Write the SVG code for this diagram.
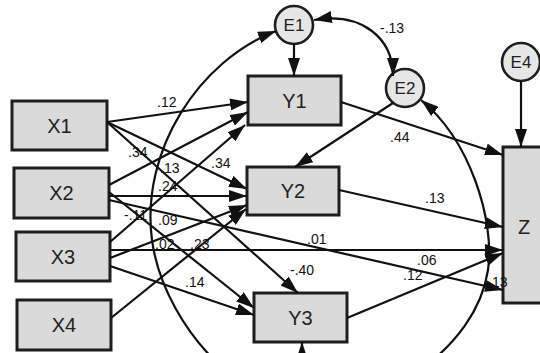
<svg xmlns="http://www.w3.org/2000/svg" width="540" height="353" viewBox="0 0 540 353">
<style>
.box{fill:#dadada;stroke:#1e1e1e;stroke-width:3}
.circ{fill:#e6e6e6;stroke:#1e1e1e;stroke-width:2.6}
.nt{font-family:"Liberation Sans",Arial,sans-serif;font-size:20px;fill:#222;text-anchor:middle}
.ct{font-family:"Liberation Sans",Arial,sans-serif;font-size:17px;fill:#222;text-anchor:middle}
.lb{font-family:"Liberation Sans",Arial,sans-serif;font-size:14px;fill:#111}
.e{fill:none;stroke:#111;stroke-width:2.2;marker-end:url(#ah)}
.b{fill:none;stroke:#111;stroke-width:2.2;marker-end:url(#ah);marker-start:url(#ahs)}
</style>
<defs>
<marker id="ah" markerUnits="userSpaceOnUse" markerWidth="18" markerHeight="12" refX="18" refY="6" orient="auto"><path d="M0,0 L18,6 L0,12 z" fill="#111"/></marker>
<marker id="ahs" markerUnits="userSpaceOnUse" markerWidth="18" markerHeight="12" refX="0" refY="6" orient="auto"><path d="M18,0 L0,6 L18,12 z" fill="#111"/></marker>
</defs>
<rect width="540" height="353" fill="#ffffff"/>
<g id="node-X1"><rect class="box" x="12" y="101" width="95" height="49"/><text class="nt" x="59.5" y="133">X1</text></g>
<g id="node-X2"><rect class="box" x="14" y="168" width="95" height="50"/><text class="nt" x="61.5" y="200">X2</text></g>
<g id="node-X3"><rect class="box" x="16" y="232" width="94" height="49"/><text class="nt" x="63" y="264">X3</text></g>
<g id="node-X4"><rect class="box" x="17" y="300" width="94" height="50"/><text class="nt" x="64" y="332">X4</text></g>
<g id="node-Y1"><rect class="box" x="248" y="76" width="93" height="49"/><text class="nt" x="294.5" y="108">Y1</text></g>
<g id="node-Y2"><rect class="box" x="247" y="167" width="92" height="48"/><text class="nt" x="293" y="198">Y2</text></g>
<g id="node-Y3"><rect class="box" x="254" y="293" width="93" height="49"/><text class="nt" x="300.5" y="325">Y3</text></g>
<g id="node-Z"><rect class="box" x="503" y="147" width="47" height="156"/><text class="nt" x="524" y="234">Z</text></g>
<g id="node-E1"><circle class="circ" cx="294" cy="25" r="19"/><text class="ct" x="294" y="31">E1</text></g>
<g id="node-E2"><circle class="circ" cx="405" cy="88" r="19"/><text class="ct" x="405" y="94">E2</text></g>
<g id="node-E4"><circle class="circ" cx="521" cy="62" r="19"/><text class="ct" x="521" y="68">E4</text></g>
<g id="connectors">
<line class="e" x1="107" y1="122" x2="248" y2="102"/>
<line class="e" x1="107" y1="122" x2="247" y2="189"/>
<line class="e" x1="107" y1="122" x2="298" y2="293"/>
<line class="e" x1="109" y1="185" x2="248" y2="112"/>
<line class="e" x1="109" y1="196" x2="247" y2="196"/>
<line class="e" x1="109" y1="200" x2="503" y2="290"/>
<line class="e" x1="109" y1="192" x2="254" y2="308"/>
<line class="e" x1="110" y1="242" x2="245" y2="125"/>
<line class="e" x1="110" y1="258" x2="247" y2="205"/>
<line class="e" x1="110" y1="250" x2="503" y2="250"/>
<line class="e" x1="110" y1="266" x2="254" y2="315"/>
<line class="e" x1="111" y1="318" x2="246" y2="209"/>
<line class="e" x1="341" y1="102" x2="503" y2="155"/>
<line class="e" x1="339" y1="190" x2="503" y2="227"/>
<line class="e" x1="347" y1="318" x2="503" y2="253"/>
<line class="e" x1="294" y1="44" x2="294" y2="76"/>
<line class="e" x1="393" y1="103" x2="295" y2="167"/>
<line class="e" x1="521" y1="81" x2="521" y2="147"/>
<line class="e" x1="302" y1="372" x2="302" y2="342"/>
<path class="b" d="M393 76 C393 38 362 12 314 20"/>
<path class="e" d="M225 370 C185 335 158 285 152 240 C140 150 200 60 276 31"/>
<path class="e" d="M420 370 C455 345 482 310 488 270 C495 220 470 140 421 100"/>
</g>
<g id="labels">
<text class="lb" x="157" y="107">.12</text>
<text class="lb" x="128" y="157">.34</text>
<text class="lb" x="160" y="173">.13</text>
<text class="lb" x="158" y="191">.24</text>
<text class="lb" x="211" y="168">.34</text>
<text class="lb" x="124" y="220">-.11</text>
<text class="lb" x="158" y="225">.09</text>
<text class="lb" x="155" y="249">.02</text>
<text class="lb" x="190" y="249">.23</text>
<text class="lb" x="185" y="287">.14</text>
<text class="lb" x="307" y="244">.01</text>
<text class="lb" x="290" y="275">-.40</text>
<text class="lb" x="417" y="265">.06</text>
<text class="lb" x="403" y="280">.12</text>
<text class="lb" x="425" y="203">.13</text>
<text class="lb" x="390" y="142">.44</text>
<text class="lb" x="492" y="287">13</text>
<text class="lb" x="380" y="33">-.13</text>
</g>
</svg>
